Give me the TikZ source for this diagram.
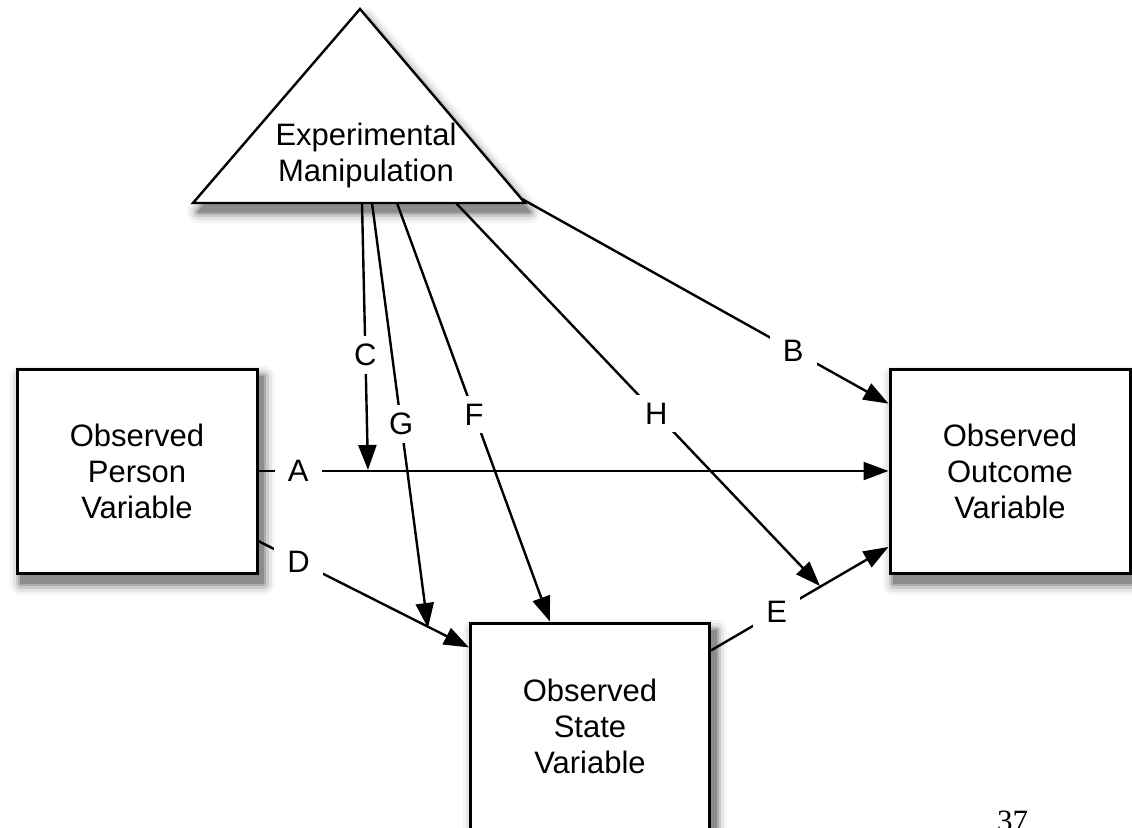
\documentclass[tikz,border=0pt]{standalone}
\usepackage{fontspec}
\setmainfont{Liberation Sans}
\newfontfamily\pagefont{Liberation Serif}
\usepackage{tikz}
\usetikzlibrary{arrows.meta,backgrounds}

\tikzset{
  shadowlayer/.style={line join=round,transform canvas={xshift=5pt,yshift=-9pt}},
  varbox/.style={draw,line width=3pt,fill=white,align=center,minimum width=240pt,
    font=\fontsize{31}{36}\selectfont},
  link/.style={line width=2.4pt,-{Triangle[length=25pt,width=18pt]}},
  lbl/.style={fill=white,inner xsep=13pt,inner ysep=8pt,font=\fontsize{31}{36}\selectfont}
}

\begin{document}
\begin{tikzpicture}[x=1pt,y=-1pt]
\useasboundingbox (0,0) rectangle (1132,827);

% the manipulation
\coordinate (apex) at (360,9);
\coordinate (baseL) at (193,203);
\coordinate (baseR) at (525,203);
\draw[line width=2.4pt,fill=white] (baseL) -- (apex) -- (baseR) -- cycle;
\node[align=center,font=\fontsize{31}{36}\selectfont] (manip) at (366,155) {Experimental\\Manipulation};
\coordinate (mC) at (362,203);
\coordinate (mG) at (372,203);
\coordinate (mF) at (397,203);
\coordinate (mH) at (456,203);
\coordinate (mB) at (522,199);

% the variables
\node[varbox,minimum height=204pt] (person) at (137,471) {Observed\\Person\\Variable};
\node[varbox,minimum height=204pt] (outcome) at (1010,471) {Observed\\Outcome\\Variable};
\node[varbox,minimum height=206pt,minimum width=239pt] (state) at (590,726) {Observed\\State\\Variable};

% soft shadows
\begin{scope}[on background layer]
\foreach \w/\c in {22/4,16/10,10/20,5/32,1/45} {
  \foreach \n in {person,outcome,state}
    \draw[shadowlayer,draw=black!\c,fill=black!\c,line width=\w pt] (\n.north west) rectangle (\n.south east);
  \draw[shadowlayer,draw=black!\c,fill=black!\c,line width=\w pt] (baseL) -- (apex) -- (baseR) -- cycle;
}
\end{scope}

% paths between them
\draw[link] (person) -- node[lbl,pos=0.063] {A} (outcome);
\draw[link] (person.-30) -- node[lbl,pos=0.19] {D} (state.147.5);
\draw[link] (state.32) -- node[lbl,pos=0.37] {E} (outcome.-148);
\draw[link] (mB) -- node[lbl,pos=0.74] {B} (outcome.151.2);
\draw[link] (mF) -- node[lbl,pos=0.505] {F} (state.111.2);

% moderated paths
\coordinate (onA) at (368,470);
\coordinate (onD) at (428,628);
\coordinate (onE) at (820,586);
\draw[link] (mC) -- node[lbl,pos=0.57] {C} (onA);
\draw[link] (mG) -- node[lbl,pos=0.52] {G} (onD);
\draw[link] (mH) -- node[lbl,pos=0.55] {H} (onE);

\node[anchor=base west,inner sep=0pt,font=\pagefont\fontsize{31}{36}\selectfont] (pagenum) at (997,831) {37};
\end{tikzpicture}
\end{document}
